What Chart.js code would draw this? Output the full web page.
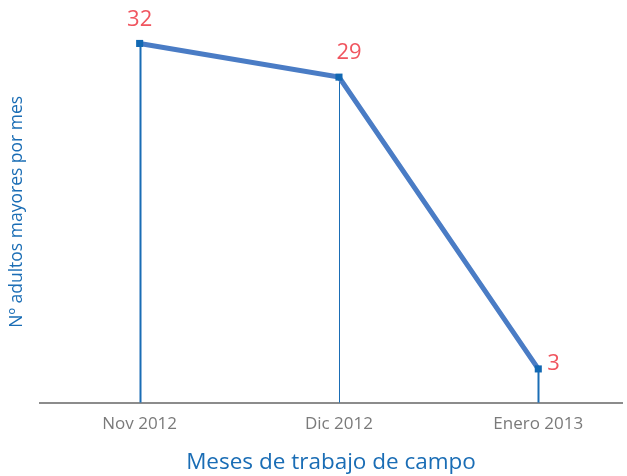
<!DOCTYPE html>
<html>
<head>
<meta charset="utf-8">
<script src="https://cdn.jsdelivr.net/npm/chart.js@4"></script>
<style>
  html, body { margin: 0; padding: 0; background: #fff; }
  #wrap { width: 627px; height: 476px; }
</style>
</head>
<body>
<div id="wrap"><canvas id="grafico" width="627" height="476"></canvas></div>
<script>
// datos
const meses = ['Nov 2012', 'Dic 2012', 'Enero 2013'];
const adultos = [32, 29, 3];

const fuente = "'Open Sans', 'Noto Sans', sans-serif";

// posicion de cada etiqueta respecto al punto (dx, dy)
const desplazamientos = [[0, -24], [10, -24], [9, -5]];

// lineas verticales desde cada punto hasta el eje
const lineasVerticales = {
  id: 'lineasVerticales',
  beforeDatasetsDraw(chart) {
    const { ctx, scales: { x, y } } = chart;
    ctx.save();
    ctx.strokeStyle = '#1a6db5';
    adultos.forEach((v, i) => {
      const px = Math.round(x.getPixelForValue(i)) + 0.5;
      ctx.lineWidth = i === 1 ? 1 : 2;
      ctx.beginPath();
      ctx.moveTo(px, y.getPixelForValue(v));
      ctx.lineTo(px, y.getPixelForValue(0));
      ctx.stroke();
    });
    ctx.restore();
  }
};

// etiquetas con el valor
const etiquetas = {
  id: 'etiquetas',
  afterDatasetsDraw(chart) {
    const { ctx } = chart;
    const meta = chart.getDatasetMeta(0);
    ctx.save();
    ctx.fillStyle = '#f0555f';
    ctx.font = '22px ' + fuente;
    ctx.textBaseline = 'middle';
    meta.data.forEach((p, i) => {
      const [dx, dy] = desplazamientos[i];
      ctx.textAlign = i === 2 ? 'left' : 'center';
      ctx.fillText(String(adultos[i]), p.x + dx, p.y + dy);
    });
    ctx.restore();
  }
};

const ctx = document.getElementById('grafico').getContext('2d');

new Chart(ctx, {
  type: 'line',
  data: {
    datasets: [{
      data: adultos.map((v, i) => ({ x: i, y: v })),
      borderColor: '#4a7cc5',
      borderWidth: 5,
      pointStyle: 'rect',
      pointRadius: 5,
      pointBackgroundColor: '#1268b3',
      pointBorderColor: '#1268b3',
      pointBorderWidth: 0,
      tension: 0,
      clip: false
    }]
  },
  options: {
    responsive: false,
    animation: false,
    layout: { padding: { left: 4, top: 21, right: 0, bottom: 0 } },
    plugins: {
      legend: { display: false },
      tooltip: { enabled: false }
    },
    scales: {
      x: {
        type: 'linear',
        min: -0.5,
        max: 2.42,
        afterBuildTicks: axis => { axis.ticks = meses.map((m, i) => ({ value: i })); },
        ticks: {
          callback: v => meses[v],
          color: '#7a7a7a',
          font: { family: fuente, size: 17 },
          padding: 11,
          maxRotation: 0
        },
        grid: { display: false, drawTicks: false },
        border: { color: '#8c8c8c', width: 2 },
        title: {
          display: true,
          text: 'Meses de trabajo de campo',
          color: '#1a6db5',
          font: { family: fuente, size: 22.5 },
          padding: { top: 4, bottom: 0 }
        }
      },
      y: {
        min: 0,
        max: 34,
        ticks: { display: false },
        grid: { display: false, drawTicks: false },
        border: { display: false },
        title: {
          display: true,
          text: 'Nº adultos mayores por mes',
          color: '#1a6db5',
          font: { family: fuente, size: 17.5 },
          padding: { top: 2.5, bottom: 12.5 }
        }
      }
    }
  },
  plugins: [lineasVerticales, etiquetas]
});
</script>
</body>
</html>
